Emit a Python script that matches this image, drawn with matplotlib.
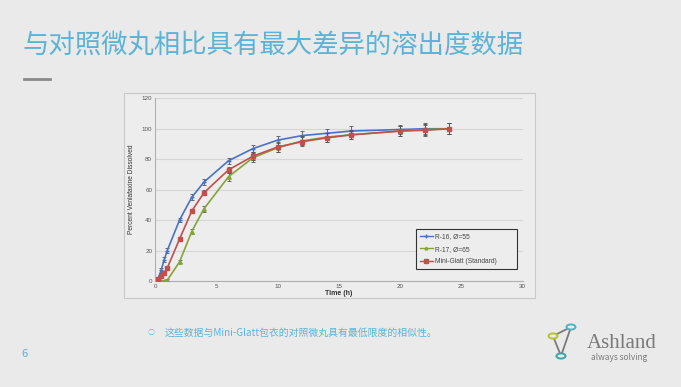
import numpy as np
import matplotlib.pyplot as plt
from matplotlib.patches import Rectangle, Circle
from matplotlib.lines import Line2D

plt.rcParams['font.family'] = ['Noto Sans CJK SC', 'DejaVu Sans']

# data
t_blue = [0.25, 0.5, 0.75, 1, 2, 3, 4, 6, 8, 10, 12, 14, 16, 20, 22, 24]
r16 = [1.5, 7, 14, 20, 40, 55, 65, 79, 87, 92.5, 95.5, 97, 98.5, 99.5, 100, 100]
r16_err = [1, 1.5, 1.5, 1.5, 1.5, 2, 2, 2, 2.5, 3, 3, 3, 3, 3, 3.5, 3.5]

t_green = [0.5, 0.75, 1, 2, 3, 4, 6, 8, 10, 12, 14, 16, 20, 22, 24]
r17 = [0, 0, 0.5, 12.5, 32.5, 47.5, 68.5, 81, 87.5, 92, 94.5, 96, 98.5, 99.5, 100]
r17_err = [0.5, 0.5, 0.5, 1, 1.5, 2, 2.5, 3, 3, 3, 3, 3, 3, 3.5, 3.5]

t_red = [0.25, 0.5, 0.75, 1, 2, 3, 4, 6, 8, 10, 12, 14, 16, 20, 22, 24]
mini = [1.5, 3, 5.5, 8.5, 27.5, 46, 58, 73, 82, 88, 91.5, 94, 96, 98.5, 99, 100]
mini_err = [0.5, 1, 1, 1, 1.5, 1.5, 1.5, 2, 2.5, 3, 3, 3, 2.5, 3, 3.5, 3.5]

labels = ['R-16, Ø=55', 'R-17, Ø=65', 'Mini-Glatt (Standard)']
colors = ['#4a72c4', '#86a33a', '#c0504d']
markers = ['+', '^', 's']

title = '与对照微丸相比具有最大差异的溶出度数据'
note = '这些数据与Mini-Glatt包衣的对照微丸具有最低限度的相似性。'

W, H = 681, 387
bg = '#e9eae9'
fig = plt.figure(figsize=(W / 100, H / 100), dpi=100, facecolor=bg)

def fx(px):
    return px / W

def fy(py):
    return 1 - py / H

# slide title and decoration
fig.text(fx(22), fy(46), title, color='#5db3d6', fontsize=19, va='center', ha='left')
fig.add_artist(Line2D([fx(24), fx(50)], [fy(79), fy(79)], color='#8a8a8a', lw=2))

# chart frame (behind the axes)
frame = Rectangle((fx(124), fy(298)), fx(535) - fx(124), fy(93) - fy(298),
                  facecolor='#ededed', edgecolor='#c8c8c8', lw=0.8, zorder=-5)
fig.patches.append(frame)
frame.set_figure(fig)
frame.set_transform(fig.transFigure)

ax = fig.add_axes([fx(155), fy(281), fx(522.7) - fx(155), fy(98.3) - fy(281)])
ax.set_facecolor('#ededed')

series = [(t_blue, r16, r16_err), (t_green, r17, r17_err), (t_red, mini, mini_err)]
sizes = [3.5, 2.5, 2.8]
for i, (t, y, e) in enumerate(series):
    ax.errorbar(t, y, yerr=e, color=colors[i], marker=markers[i], ms=sizes[i], lw=1.2,
                ecolor='#555555', elinewidth=0.6, capsize=1.2, capthick=0.6, zorder=3 + i)

ax.set_xlim(0, 30)
ax.set_ylim(0, 120)
ax.set_xticks(np.arange(0, 31, 5))
ax.set_yticks(np.arange(0, 121, 20))
ax.yaxis.grid(True, color='#d6d6d6', lw=0.8)
ax.set_axisbelow(True)
ax.tick_params(labelsize=4.5, colors='#555555', length=0, pad=2)
for lab in ax.get_xticklabels() + ax.get_yticklabels():
    lab.set_family('Liberation Sans')
for s in ['top', 'right']:
    ax.spines[s].set_visible(False)
for s in ['left', 'bottom']:
    ax.spines[s].set_color('#b0b0b0')
    ax.spines[s].set_linewidth(0.8)
ax.set_xlabel('Time (h)', fontsize=5, color='#333333', labelpad=1, fontweight='bold',
              family='Liberation Sans')
ax.set_ylabel('Percent Venlafaxine Dissolved', fontsize=4.8, color='#333333', labelpad=5,
              family='Liberation Sans')

handles = [Line2D([], [], color=colors[i], marker=markers[i], ms=sizes[i] * 0.8, lw=1.0)
           for i in range(3)]
leg = ax.legend(handles, labels, loc='lower left', bbox_to_anchor=(0.71, 0.066, 0.275, 0.197),
                mode='expand', prop={'family': 'Liberation Sans', 'size': 4.8}, frameon=True,
                fancybox=False, edgecolor='#333333', facecolor='#ededed', framealpha=1,
                handlelength=2.0, labelspacing=0.85, borderpad=0.55, borderaxespad=0,
                handletextpad=0.3)
leg.get_frame().set_linewidth(0.8)
for txt in leg.get_texts():
    txt.set_color('#444444')

# footer note and page number
fig.text(fx(151), fy(333), '○', color='#5db3d6', fontsize=5, va='center', ha='center')
fig.text(fx(165), fy(333), note, color='#5db3d6', fontsize=7.1, va='center', ha='left')
fig.text(fx(25), fy(354), '6', color='#5db3d6', fontsize=8, va='center', ha='center')

# logo
p1, p2, p3 = (553, 336), (571, 327), (561, 356)
for a, b in [(p1, p2), (p1, p3), (p2, p3)]:
    fig.add_artist(Line2D([fx(a[0]), fx(b[0])], [fy(a[1]), fy(b[1])], color='#7a7a7a', lw=1.3))
for (px, py), c in zip([p1, p2, p3], ['#b5c22e', '#4fb3c2', '#3aa6a8']):
    fig.add_artist(Circle((fx(px), fy(py)), 4.5 / W, transform=fig.transFigure,
                          facecolor=bg, edgecolor=c, lw=1.4, zorder=5))
fig.text(fx(587), fy(343), 'Ashland', color='#7a7a7a', fontsize=15, family='Liberation Serif',
         va='center', ha='left')
fig.text(fx(619), fy(357), 'always solving', color='#7a7a7a', fontsize=6, va='center', ha='center')

fig.savefig('out.png', dpi=100, facecolor=bg)
